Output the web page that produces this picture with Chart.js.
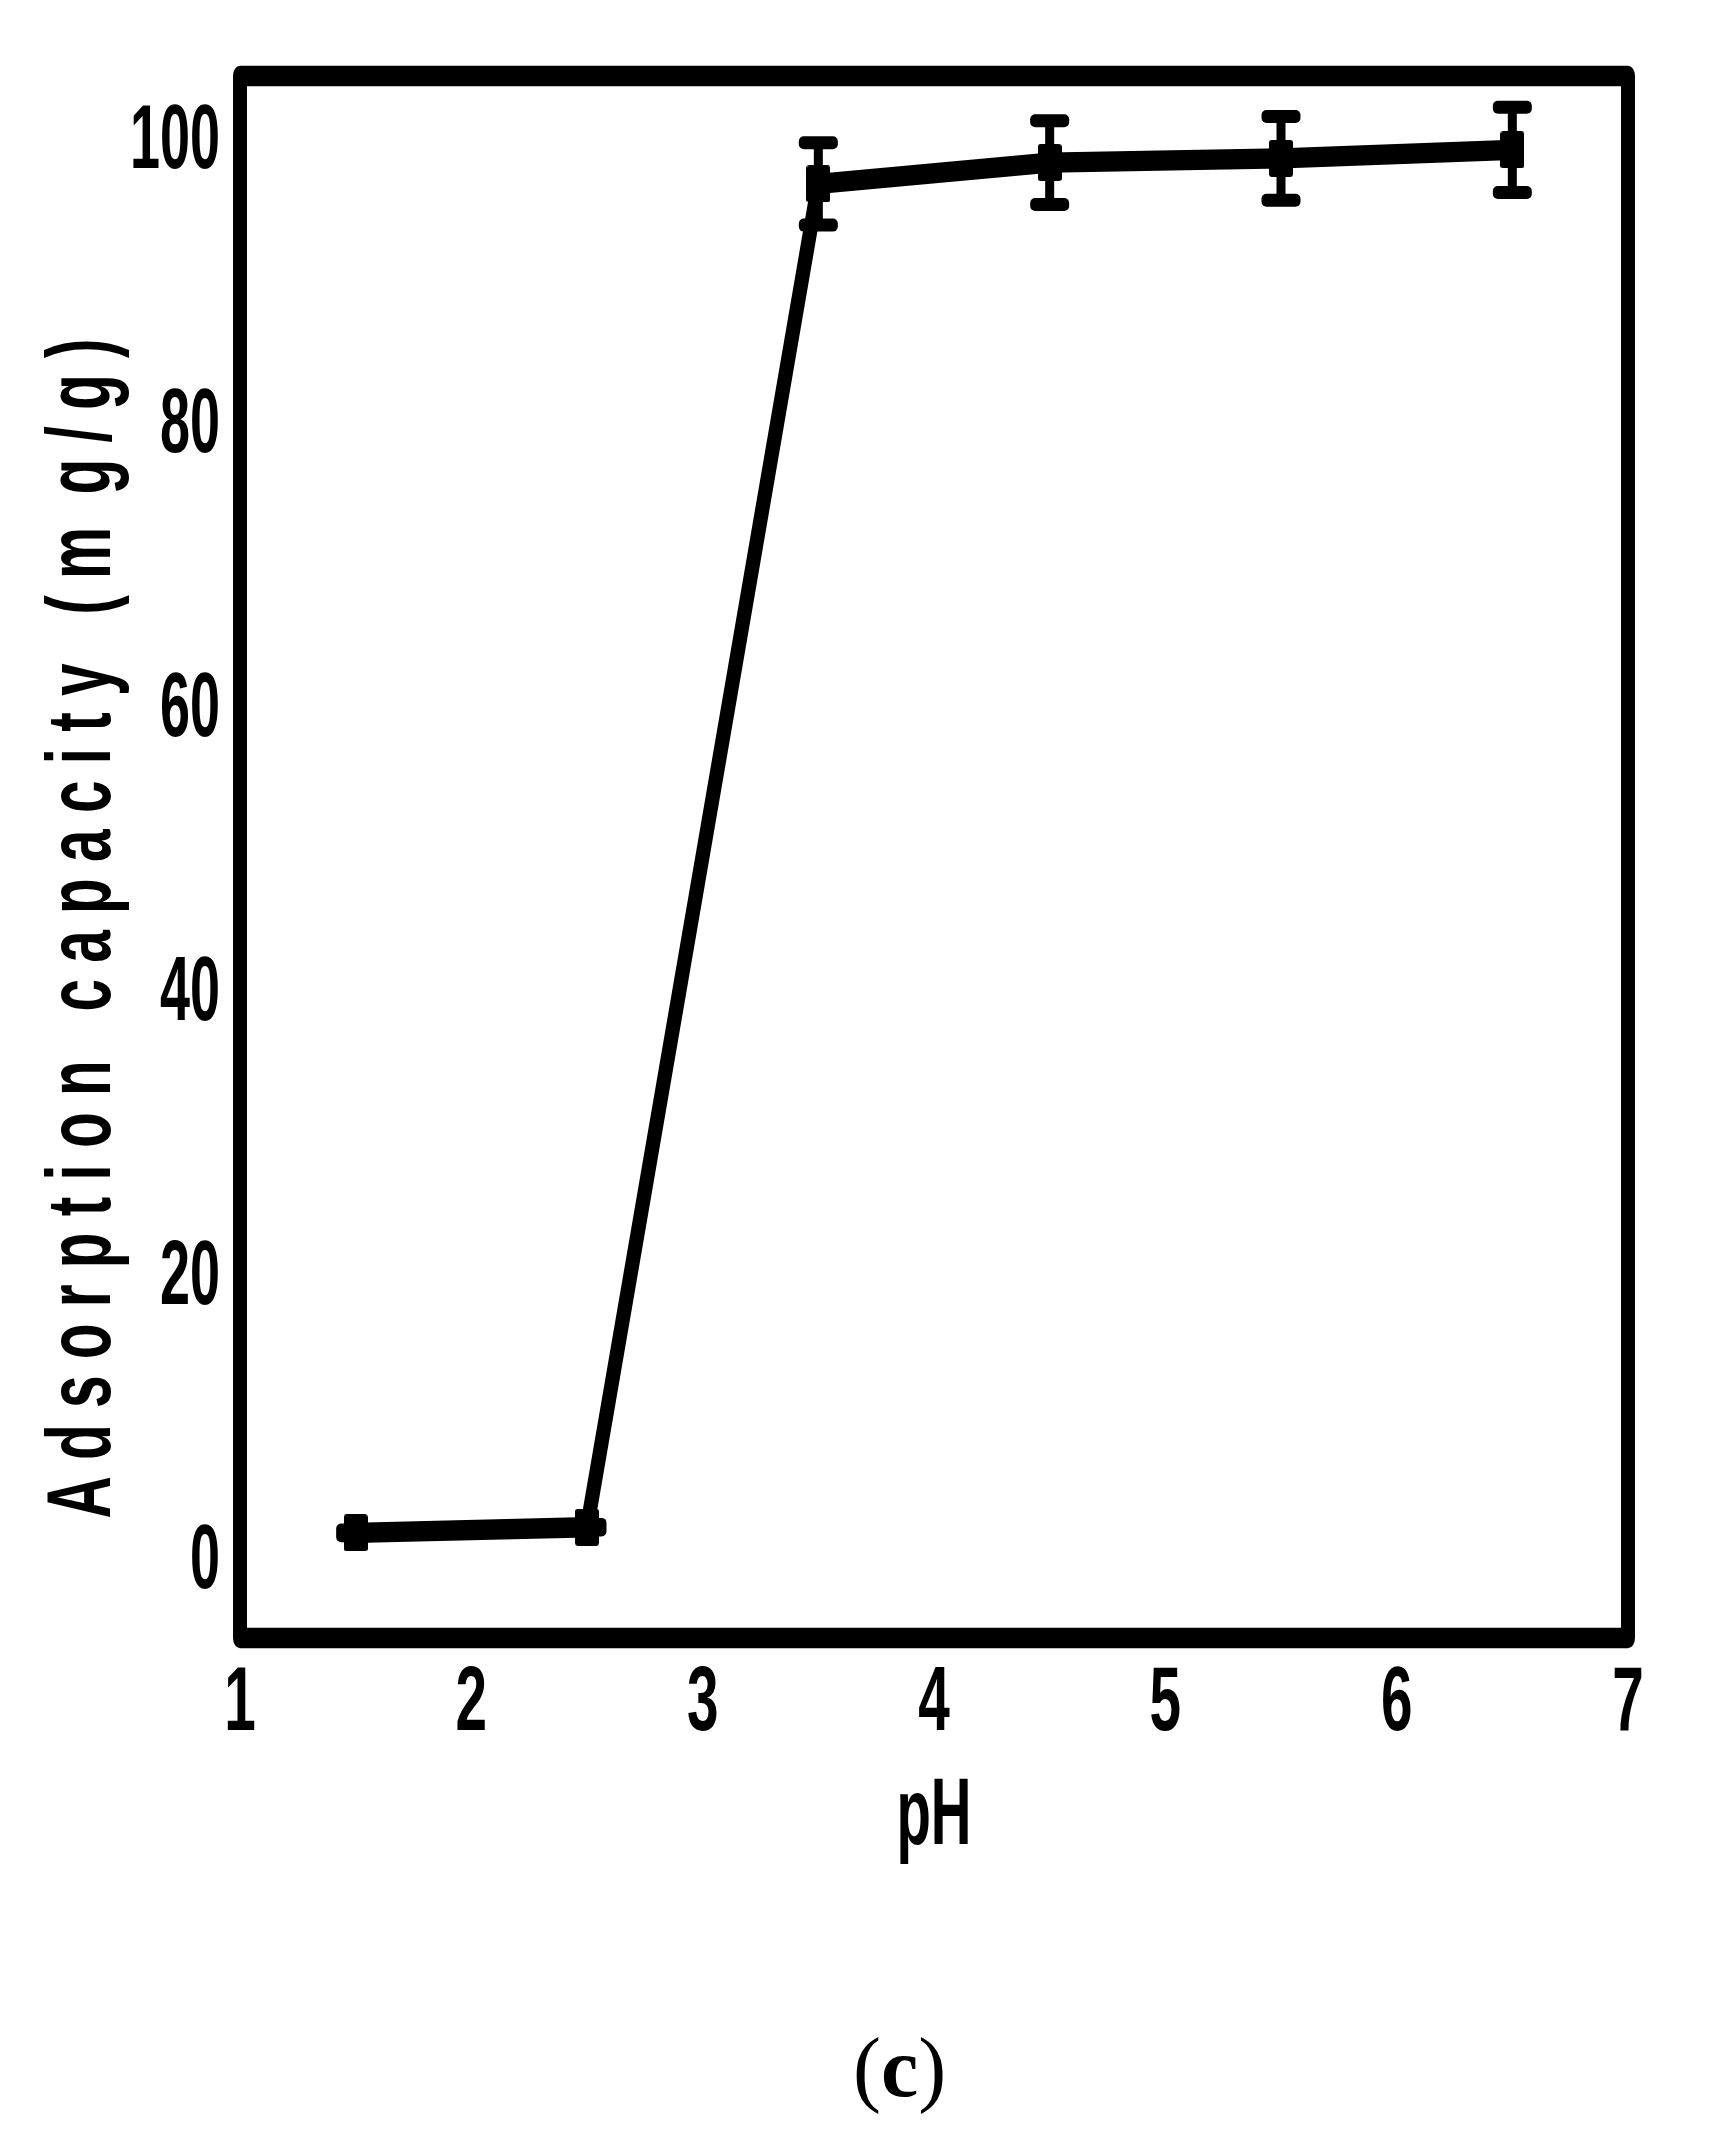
<!DOCTYPE html>
<html>
<head>
<meta charset="utf-8">
<script src="https://cdn.jsdelivr.net/npm/chart.js@4.4.1/dist/chart.umd.min.js"></script>
<style>
  html, body { margin: 0; padding: 0; background: #fff; }
  #wrap { position: relative; width: 1717px; height: 2144px; }
  #caption { position: absolute; left: 853px; top: 2026px; font: 84px/84px 'Liberation Serif', serif; color: #000; }
</style>
</head>
<body>
<div id="wrap">
  <canvas id="phChart" width="1717" height="2144"></canvas>
  <div id="caption">(<b>c</b>)</div>
</div>
<script>
// data
const phValues = [1.5, 2.5, 3.5, 4.5, 5.5, 6.5];
const capacity = [2.1, 2.5, 97.1, 98.6, 98.9, 99.5];
const capacityErr = [0.2, 0.2, 2.9, 2.95, 2.95, 3.0];
const xTickValues = [1, 2, 3, 4, 5, 6, 7];
const yTickValues = [0, 20, 40, 60, 80, 100];
const xTitle = 'pH';
const yTitle = 'A d s o r p t i o n   c a p a c i t y   ( m  g / g )';

const FONT = "'Liberation Sans', Arial, sans-serif";
const PEN_Y = 1.45; // horizontal strokes come out thicker than vertical ones
const proto = CanvasRenderingContext2D.prototype;

// the original uses a very condensed face, squeeze the text along its own direction
function squeezeText(ctx, sx, shift, draw) {
  ctx.rotate = function (a) {
    proto.rotate.call(this, a);
    this.translate(shift, 0);
    this.scale(sx, 1);
  };
  ctx.fillText = function (text, x, y) {
    proto.fillText.call(this, text, x, y);
  };
  draw();
  delete ctx.rotate;
  delete ctx.fillText;
}

class SqueezedLinear extends Chart.LinearScale {
  drawLabels(area) {
    squeezeText(this.ctx, this.options.ticks.squeeze || 1, 0, () => super.drawLabels(area));
  }
  drawTitle() {
    const t = this.options.title;
    squeezeText(this.ctx, t.squeeze || 1, t.shift || 0, () => super.drawTitle());
  }
}
SqueezedLinear.id = 'squeezedLinear';
SqueezedLinear.defaults = Chart.LinearScale.defaults;
Chart.register(SqueezedLinear);

function makeMarker(w, h) {
  const c = document.createElement('canvas');
  c.width = w;
  c.height = h;
  const g = c.getContext('2d');
  g.fillStyle = '#000';
  g.beginPath();
  g.roundRect(0, 0, w, h, 3);
  g.fill();
  return c;
}

const anisoPen = {
  id: 'anisoPen',
  beforeDatasetDraw(chart) {
    chart.ctx.stroke = function (path) {
      if (path) return proto.stroke.call(this, path);
      this.save();
      this.scale(1, PEN_Y);
      proto.stroke.call(this);
      this.restore();
    };
  },
  afterDatasetDraw(chart) {
    delete chart.ctx.stroke;
  }
};

const errorBars = {
  id: 'errorBars',
  afterDatasetsDraw(chart) {
    const { ctx, scales: { x, y } } = chart;
    ctx.save();
    ctx.fillStyle = '#000';
    phValues.forEach((ph, i) => {
      const px = x.getPixelForValue(ph);
      const top = y.getPixelForValue(capacity[i] + capacityErr[i]);
      const bot = y.getPixelForValue(capacity[i] - capacityErr[i]);
      ctx.fillRect(px - 4.5, top, 9, bot - top);
      [top, bot].forEach(cy => {
        ctx.beginPath();
        ctx.roundRect(px - 19.5, cy - 6.5, 39, 13, 5);
        ctx.fill();
      });
    });
    ctx.restore();
  }
};

const frame = {
  id: 'frame',
  afterDraw(chart) {
    const { ctx, chartArea: a } = chart;
    ctx.save();
    ctx.beginPath();
    ctx.rect(a.left, a.top, a.right - a.left, a.bottom - a.top);
    ctx.scale(1, PEN_Y);
    ctx.strokeStyle = '#000';
    ctx.lineWidth = 14;
    ctx.lineJoin = 'round';
    ctx.stroke();
    ctx.restore();
  }
};

function noPadding(scale) {
  scale.paddingLeft = scale.paddingRight = scale.paddingTop = scale.paddingBottom = 0;
}

new Chart(document.getElementById('phChart'), {
  type: 'line',
  data: {
    datasets: [{
      data: phValues.map((ph, i) => ({ x: ph, y: capacity[i] })),
      borderColor: '#000',
      borderWidth: 14,
      borderCapStyle: 'round',
      borderJoinStyle: 'round',
      tension: 0,
      segment: {},
      pointStyle: makeMarker(24, 37),
      pointRadius: 12
    }]
  },
  options: {
    responsive: false,
    devicePixelRatio: 1,
    animation: false,
    layout: { padding: { left: 0, top: 76, right: 89, bottom: 206 } },
    plugins: { legend: { display: false }, tooltip: { enabled: false } },
    scales: {
      x: {
        type: 'squeezedLinear',
        min: 1,
        max: 7,
        grid: { display: false },
        border: { display: false },
        afterBuildTicks: s => { s.ticks = xTickValues.map(value => ({ value })); },
        afterFit: s => { s.height = 300; noPadding(s); },
        ticks: {
          color: '#000',
          padding: 14,
          squeeze: 0.63,
          font: { family: FONT, size: 90, weight: 'bold', lineHeight: 1 }
        },
        title: {
          display: true,
          text: xTitle,
          color: '#000',
          squeeze: 0.6,
          padding: { top: 0, bottom: 73 },
          font: { family: FONT, size: 94, weight: 'bold', lineHeight: 1 }
        }
      },
      y: {
        type: 'squeezedLinear',
        min: -5.3,
        max: 104.7,
        grid: { display: false },
        border: { display: false },
        afterBuildTicks: s => { s.ticks = yTickValues.map(value => ({ value })); },
        afterFit: s => { s.width = 240; noPadding(s); },
        ticks: {
          color: '#000',
          padding: 12,
          squeeze: 0.6,
          font: { family: FONT, size: 90, weight: 'bold', lineHeight: 1 }
        },
        title: {
          display: true,
          text: yTitle,
          color: '#000',
          squeeze: 0.65,
          shift: -71.5,
          padding: { top: 40, bottom: 0 },
          font: { family: FONT, size: 90, weight: 'bold', lineHeight: 1 }
        }
      }
    }
  },
  plugins: [anisoPen, errorBars, frame]
});
</script>
</body>
</html>
